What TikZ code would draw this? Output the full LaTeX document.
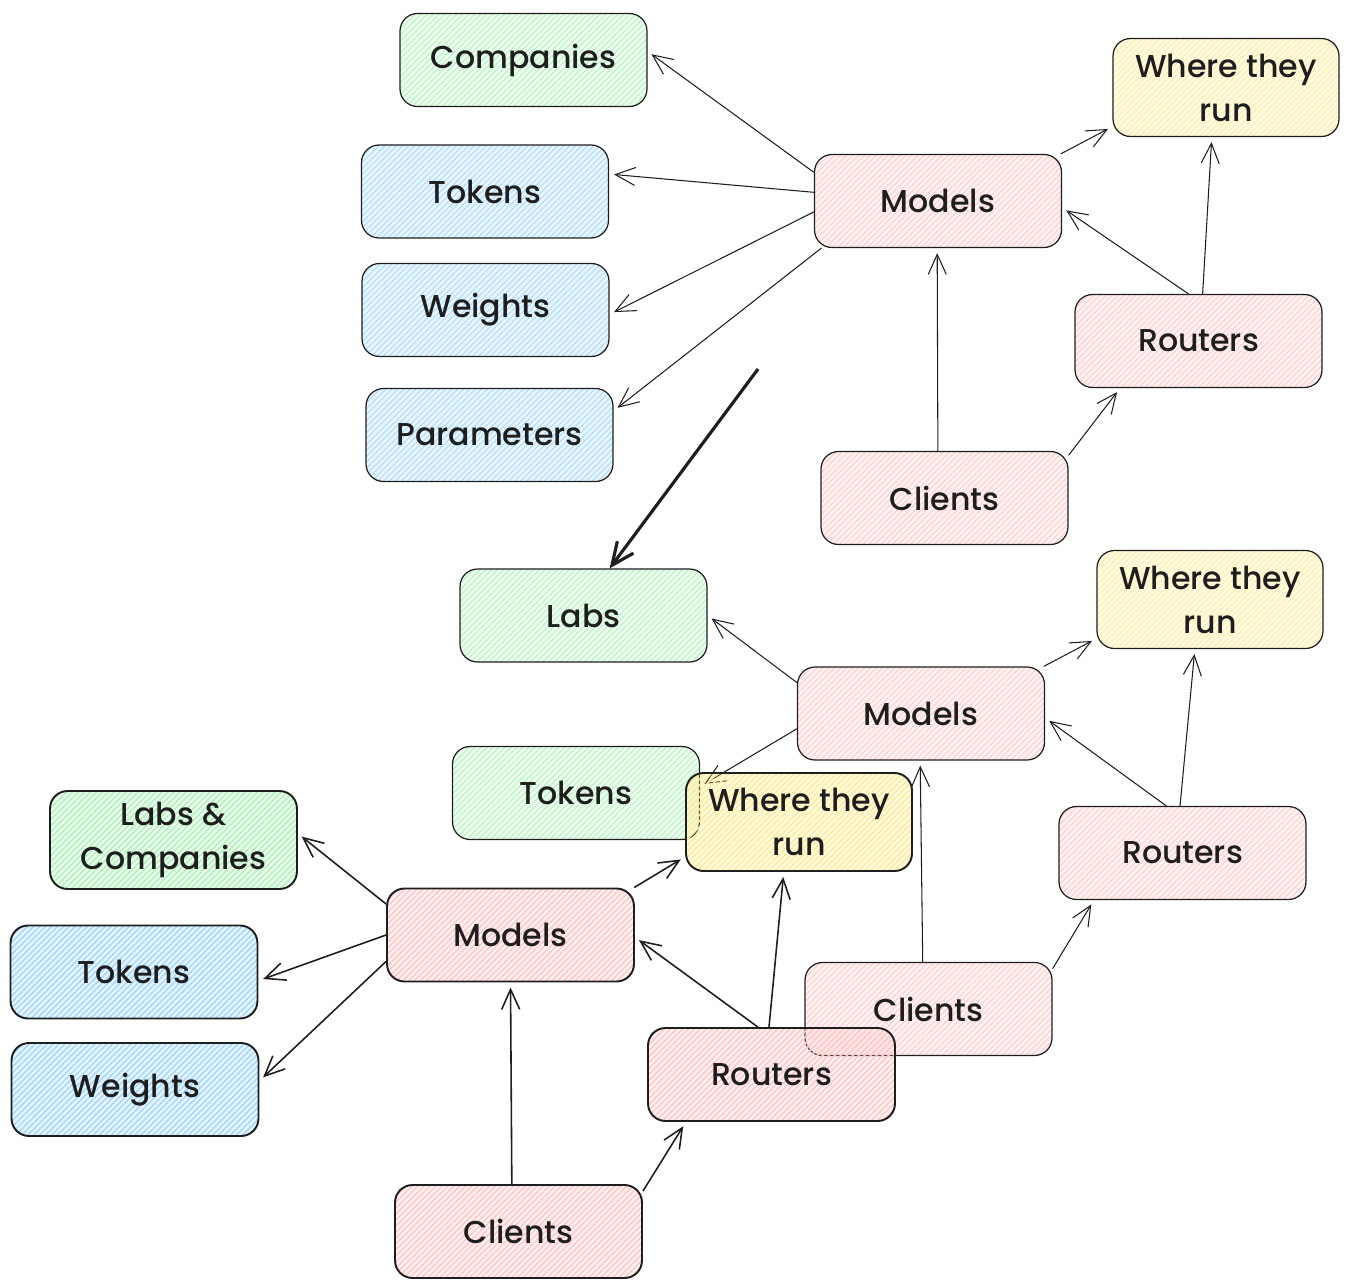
\documentclass[tikz,border=0pt]{standalone}
\usepackage{fontspec}
\setmainfont{Poppins Medium}
\usepackage{tikz}
\usetikzlibrary{arrows.meta}
\usetikzlibrary{patterns.meta}

\definecolor{pinkfill}{HTML}{FFC9C9}
\definecolor{greenfill}{HTML}{B2F2BB}
\definecolor{bluefill}{HTML}{A5D8FF}
\definecolor{yellowfill}{HTML}{FFEC99}
\definecolor{ink}{HTML}{1E1E1E}

\begin{document}
\begin{tikzpicture}[x=0.02cm, y=-0.02cm,
  font=\fontsize{18}{25}\selectfont, text=ink,
  card/.style={draw=ink, line width=0.7pt, rounded corners=0.35cm,
    minimum width=4.94cm, minimum height=1.86cm, align=center,
    preaction={fill=#1, fill opacity=0.25},
    pattern={Lines[angle=45,distance=2.4pt,line width=0.5pt]}, pattern color=#1},
  wide/.style={minimum width=4.52cm, minimum height=1.96cm},
  strong/.style={line width=1.1pt,
    pattern={Lines[angle=45,distance=2.4pt,line width=0.9pt]}},
  link/.style={draw=ink, line width=0.6pt,
    -{Straight Barb[length=0.4cm,width=0.36cm]}, shorten >=0.1cm},
  boldlink/.style={link, line width=0.9pt}]
  \useasboundingbox (0,0) rectangle (1349,1288);

  % first sketch
  \node[card=greenfill] (comp1) at (523.5,60) {Companies};
  \node[card=bluefill] (tok1) at (485,191.5) {Tokens};
  \node[card=bluefill] (wei1) at (485.5,310) {Weights};
  \node[card=bluefill] (par1) at (489.5,435) {Parameters};
  \node[card=pinkfill] (mod1) at (938,201) {Models};
  \node[card=yellowfill, wide] (run1) at (1226,87.5) {Where they\\run};
  \node[card=pinkfill] (rou1) at (1198.5,341) {Routers};
  \node[card=pinkfill] (cli1) at (944.5,498) {Clients};

  \draw[link] (mod1.167) -- (comp1.4);
  \draw[link] (mod1.176) -- (tok1.8);
  \draw[link] (mod1.185) -- (wei1.358);
  \draw[link] (mod1.202) -- (par1.11);
  \draw[link] (mod1.21) -- (run1.199);
  \draw[link] (rou1.102) -- (mod1.357);
  \draw[link] (rou1.85) -- (run1.254);
  \draw[link] (cli1.98) -- (mod1.269);
  \draw[link] (cli1.19) -- (rou1.211);

  % second sketch
  \node[card=greenfill] (labs2) at (583.5,615.5) {Labs};
  \node[card=yellowfill, wide] (run2) at (1210,599.5) {Where they\\run};
  \node[card=pinkfill] (mod2) at (921,713.5) {Models};
  \node[card=greenfill] (tok2) at (576,793) {Tokens};
  \node[card=pinkfill] (rou2) at (1182.5,853) {Routers};
  \node[card=pinkfill] (cli2) at (928.5,1009) {Clients};

  \coordinate (pen) at (758,369);
  \draw[ink, line width=1.8pt, -{Straight Barb[length=0.45cm,width=0.4cm]}] (pen) -- (labs2.61);

  \draw[link] (mod2.166) -- (labs2.0);
  \draw[link] (mod2.187) -- (tok2.3);
  \draw[link] (mod2.21) -- (run2.199);
  \draw[link] (rou2.109) -- (mod2.358);
  \draw[link] (rou2.93) -- (run2.253);
  \draw[link] (cli2.97) -- (mod2.269);
  \draw[link] (cli2.18) -- (rou2.208);

  % third sketch
  \node[card=greenfill, strong, minimum height=1.96cm] (labs3) at (173.5,840) {Labs \&\\Companies};
  \node[card=bluefill, strong] (tok3) at (134,972) {Tokens};
  \node[card=bluefill, strong] (wei3) at (135,1089.5) {Weights};
  \node[card=pinkfill, strong] (mod3) at (510.5,935) {Models};
  \node[card=yellowfill, wide, strong] (run3) at (799,822) {Where they\\run};
  \node[card=pinkfill, strong] (rou3) at (771.5,1074.5) {Routers};
  \node[card=pinkfill, strong] (cli3) at (518.5,1231.5) {Clients};

  \draw[boldlink] (mod3.166) -- (labs3.3);
  \draw[boldlink] (mod3.180) -- (tok3.356);
  \draw[boldlink] (mod3.192) -- (wei3.4);
  \draw[boldlink] (mod3.21) -- (run3.197);
  \draw[boldlink] (rou3.106) -- (mod3.359);
  \draw[boldlink] (rou3.93) -- (run3.253);
  \draw[boldlink] (cli3.98) -- (mod3.270);
  \draw[boldlink] (cli3.18) -- (rou3.209);
\end{tikzpicture}
\end{document}
